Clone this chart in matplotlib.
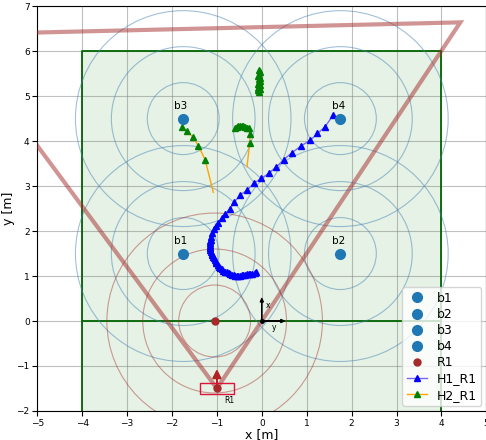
import numpy as np
import matplotlib
matplotlib.use("Agg")
import matplotlib.pyplot as plt
from matplotlib.patches import Circle, Rectangle, Polygon

# beacons
beacon_names = ["b1", "b2", "b3", "b4"]
beacon_x = [-1.75, 1.75, -1.75, 1.75]
beacon_y = [1.5, 1.5, 4.5, 4.5]
ring_radii = [0.8, 1.6, 2.4]

# robot R1 pose and its ground projection
r1_x, r1_y = -1.0, -1.5
r1_proj = (-1.05, 0.0)
fov = [(-1.0, -1.5), (4.42, 6.64), (-6.83, 6.37)]

# human 1 track
h1_x = [-0.12, -0.16, -0.22, -0.26, -0.29, -0.33, -0.37, -0.41, -0.44, -0.48,
        -0.52, -0.56, -0.59, -0.63, -0.67, -0.71, -0.74, -0.78, -0.82, -0.86,
        -0.89, -0.92, -0.95, -0.98, -1.01, -1.03, -1.05, -1.07, -1.09, -1.11,
        -1.12, -1.14, -1.15, -1.16, -1.16, -1.16, -1.16, -1.15, -1.14, -1.13,
        -1.10, -1.07, -1.03, -0.98, -0.89, -0.81, -0.70, -0.61, -0.48, -0.33,
        -0.18, -0.01, 0.15, 0.32, 0.49, 0.67, 0.87, 1.08, 1.24, 1.41,
        1.59]
h1_y = [1.08, 1.06, 1.05, 1.05, 1.04, 1.04, 1.03, 1.02, 1.02, 1.01,
        1.01, 1.01, 1.01, 1.02, 1.03, 1.04, 1.06, 1.08, 1.10, 1.12,
        1.15, 1.18, 1.21, 1.24, 1.28, 1.31, 1.35, 1.39, 1.43, 1.46,
        1.50, 1.54, 1.58, 1.62, 1.65, 1.69, 1.73, 1.77, 1.80, 1.87,
        1.95, 2.04, 2.11, 2.18, 2.30, 2.39, 2.50, 2.65, 2.80, 2.91,
        3.06, 3.17, 3.28, 3.42, 3.59, 3.74, 3.89, 4.02, 4.17, 4.32,
        4.58]

# human 2 track (gaps where tracking was lost)
h2_x = [-1.08, -1.26, -1.41, -1.54, -1.67, -1.78, np.nan,
        -0.33, -0.27, -0.26, -0.29, -0.33, -0.37, -0.41, -0.44, -0.48, -0.52, -0.56, -0.59, np.nan,
        -0.06, -0.08, -0.05, -0.09, -0.06, -0.04, -0.08, -0.06, -0.05, -0.07,
        -0.05, -0.08, -0.06, -0.04, -0.07]
h2_y = [2.86, 3.58, 3.89, 4.10, 4.22, 4.32, np.nan,
        3.43, 3.95, 4.16, 4.28, 4.30, 4.32, 4.33, 4.34, 4.34, 4.33, 4.31, 4.28, np.nan,
        5.10, 5.13, 5.16, 5.19, 5.22, 5.25, 5.28, 5.31, 5.34, 5.37,
        5.40, 5.44, 5.48, 5.53, 5.58]
h2_marks = [1, 2, 3, 4, 5] + list(range(8, 19)) + list(range(20, 35))

fig = plt.figure(figsize=(4.86, 4.4), dpi=100)
ax = fig.add_axes([0.0767, 0.066, 0.924, 0.92])

# workspace
ax.add_patch(Rectangle((-4, -2), 8, 8, facecolor="g", alpha=0.1, edgecolor="none", zorder=0))
ax.plot([-4, -4, 4, 4], [-2, 6, 6, -2], color="darkgreen", lw=1.3, zorder=1)
ax.plot([-4, 4], [0, 0], color="darkgreen", lw=1.3, zorder=1)

for bx, by in zip(beacon_x, beacon_y):
    for r in ring_radii:
        ax.add_patch(Circle((bx, by), r, fill=False, color="steelblue", alpha=0.5, lw=0.8))
for r in ring_radii:
    ax.add_patch(Circle(r1_proj, r, fill=False, color="brown", alpha=0.45, lw=0.8))

ax.add_patch(Polygon(fov, closed=True, fill=False, edgecolor="brown", alpha=0.5, lw=3, zorder=3))

for name, bx, by in zip(beacon_names, beacon_x, beacon_y):
    ax.plot(bx, by, "o", color="tab:blue", ms=7, label=name, zorder=5)
    ax.text(bx - 0.05, by + 0.17, name, fontsize=7.5, ha="center", va="bottom")

ax.plot([r1_x, r1_proj[0]], [r1_y, r1_proj[1]], "o", color="brown", ms=5, ls="none", label="R1", zorder=5)
ax.arrow(r1_x, r1_y, 0, 0.22, head_width=0.18, head_length=0.18, color="firebrick", lw=1, zorder=5)
ax.add_patch(Rectangle((r1_x - 0.38, r1_y - 0.13), 0.76, 0.26, fill=False, edgecolor="crimson", lw=1, zorder=5))
ax.text(r1_x + 0.17, r1_y - 0.17, "R1", fontsize=5.5, va="top")

# local frame at origin
ax.plot(0, 0, "o", color="black", ms=2.5, zorder=6)
ax.arrow(0, 0, 0, 0.42, head_width=0.08, head_length=0.09, color="black", lw=0.7, zorder=6)
ax.arrow(0, 0, 0.42, 0, head_width=0.08, head_length=0.09, color="black", lw=0.7, zorder=6)
ax.text(0.09, 0.3, "x", fontsize=5.5)
ax.text(0.22, -0.2, "y", fontsize=5.5)

ax.plot(h1_x, h1_y, color="mediumslateblue", lw=1, marker="^", mfc="blue", mec="blue",
        ms=4, label="H1_R1", zorder=4)
ax.plot(h2_x, h2_y, color="orange", lw=1, marker="^", mfc="green", mec="green",
        ms=4, markevery=h2_marks, label="H2_R1", zorder=4)

ax.set_xlim(-5, 5)
ax.set_ylim(-2, 7)
ax.set_xticks(range(-5, 6))
ax.set_yticks(range(-2, 8))
ax.tick_params(labelsize=6.5, pad=2)
ax.grid(True, color="gray", alpha=0.5)
ax.set_axisbelow(True)
ax.set_xlabel("x [m]", fontsize=9, labelpad=0)
ax.set_ylabel("y [m]", fontsize=9, labelpad=1)
ax.legend(loc="lower right", fontsize=9, labelspacing=0.25, handlelength=1.6,
          borderaxespad=0.4, borderpad=0.35)

fig.savefig("out.png", dpi=100)
